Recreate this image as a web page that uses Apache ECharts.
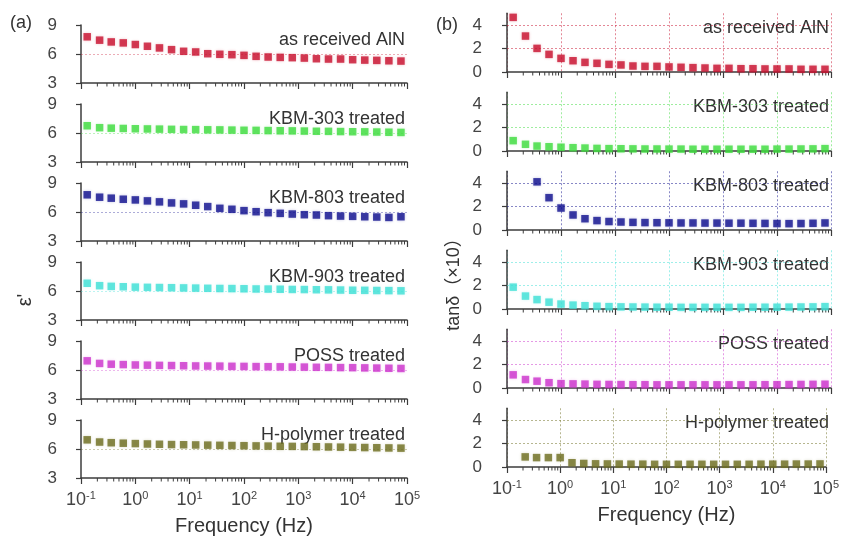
<!DOCTYPE html>
<html>
<head>
<meta charset="utf-8">
<script src="https://cdn.jsdelivr.net/npm/echarts@6/dist/echarts.min.js"></script>
<style>
  html, body { margin: 0; padding: 0; background: #fff; }
  #chart { width: 842px; height: 543px; }
</style>
</head>
<body>
<div id="chart"></div>
<script>
// measurement frequencies (Hz)
const freq = [0.13, 0.22, 0.36, 0.6, 1.0, 1.67, 2.78, 4.64, 7.74, 12.9, 21.5, 35.9, 59.9, 100,
  167, 278, 464, 774, 1290, 2150, 3590, 5990, 10000, 16700, 27800, 46400, 77400];

const sampleNames = ['as received AlN', 'KBM-303 treated', 'KBM-803 treated',
  'KBM-903 treated', 'POSS treated', 'H-polymer treated'];
const sampleColors = ['#c8102e', '#3fdc3f', '#10108e', '#3ee0d6', '#cc33cc', '#6e6e20'];

// (a) permittivity
const epsAsReceived = [7.78, 7.43, 7.25, 7.15, 6.98, 6.80, 6.63, 6.45, 6.28, 6.21, 6.03, 5.97, 5.93,
  5.86, 5.76, 5.69, 5.65, 5.62, 5.58, 5.51, 5.48, 5.48, 5.41, 5.37, 5.34, 5.30, 5.27];
const epsKbm303 = [6.75, 6.55, 6.5, 6.47, 6.44, 6.42, 6.4, 6.38, 6.36, 6.35, 6.33, 6.32, 6.3, 6.28,
  6.27, 6.25, 6.23, 6.22, 6.2, 6.18, 6.17, 6.15, 6.13, 6.12, 6.1, 6.08, 6.06];
const epsKbm803 = [7.78, 7.53, 7.43, 7.32, 7.25, 7.15, 7.05, 6.94, 6.84, 6.70, 6.56, 6.38, 6.28,
  6.14, 6.03, 5.93, 5.86, 5.79, 5.72, 5.69, 5.62, 5.58, 5.55, 5.51, 5.48, 5.44, 5.51];
const epsKbm903 = [6.8, 6.55, 6.48, 6.44, 6.4, 6.38, 6.36, 6.34, 6.32, 6.3, 6.28, 6.26, 6.25, 6.23,
  6.21, 6.2, 6.18, 6.16, 6.15, 6.13, 6.12, 6.1, 6.08, 6.07, 6.05, 6.04, 6.02];
const epsPoss = [6.95, 6.68, 6.6, 6.56, 6.52, 6.5, 6.48, 6.46, 6.44, 6.42, 6.41, 6.4, 6.38, 6.37,
  6.35, 6.34, 6.33, 6.31, 6.3, 6.28, 6.27, 6.25, 6.24, 6.22, 6.2, 6.18, 6.16];
const epsHPolymer = [6.95, 6.72, 6.65, 6.6, 6.56, 6.52, 6.49, 6.46, 6.44, 6.42, 6.4, 6.38, 6.36,
  6.34, 6.32, 6.3, 6.28, 6.27, 6.25, 6.23, 6.21, 6.19, 6.17, 6.15, 6.13, 6.11, 6.09];

// (b) loss tangent x10
const tanAsReceived = [4.65, 3.06, 2.01, 1.50, 1.16, 0.96, 0.82, 0.74, 0.65, 0.60, 0.51, 0.48, 0.48,
  0.43, 0.40, 0.37, 0.34, 0.31, 0.31, 0.28, 0.28, 0.26, 0.26, 0.26, 0.23, 0.23, 0.23];
const tanKbm303 = [0.88, 0.57, 0.42, 0.36, 0.32, 0.28, 0.25, 0.22, 0.2, 0.19, 0.18, 0.17, 0.17, 0.16,
  0.16, 0.15, 0.15, 0.15, 0.15, 0.15, 0.15, 0.15, 0.16, 0.16, 0.17, 0.18, 0.2];
const tanKbm803 = [null, null, 4.1, 2.75, 1.87, 1.28, 0.96, 0.8, 0.72, 0.68, 0.65, 0.63, 0.62, 0.61,
  0.6, 0.6, 0.59, 0.59, 0.58, 0.58, 0.57, 0.56, 0.55, 0.54, 0.55, 0.57, 0.6];
const tanKbm903 = [1.86, 1.1, 0.8, 0.58, 0.42, 0.33, 0.28, 0.23, 0.2, 0.18, 0.17, 0.16, 0.15, 0.15,
  0.14, 0.14, 0.14, 0.14, 0.14, 0.14, 0.15, 0.15, 0.15, 0.16, 0.17, 0.18, 0.2];
const tanPoss = [1.12, 0.72, 0.58, 0.45, 0.37, 0.35, 0.33, 0.31, 0.3, 0.29, 0.28, 0.28, 0.27, 0.27,
  0.27, 0.27, 0.27, 0.27, 0.27, 0.27, 0.27, 0.28, 0.28, 0.29, 0.3, 0.31, 0.32];
const tanHPolymer = [null, 0.86, 0.8, 0.8, 0.8, 0.36, 0.3, 0.27, 0.26, 0.25, 0.24, 0.24, 0.23, 0.23,
  0.23, 0.23, 0.23, 0.23, 0.23, 0.23, 0.23, 0.24, 0.24, 0.24, 0.25, 0.25, 0.26];

const epsTicks = [3, 6, 9];
const tanTicks = [0, 2, 4];
const decades = [0.1, 1, 10, 100, 1000, 10000];
const minorSteps = [2, 3, 4, 5, 6, 7, 8, 9];

const epsData = [epsAsReceived, epsKbm303, epsKbm803, epsKbm903, epsPoss, epsHPolymer];
const tanData = [tanAsReceived, tanKbm303, tanKbm803, tanKbm903, tanPoss, tanHPolymer];

const FONT = '"Liberation Sans", Arial, sans-serif';
const AXIS_COLOR = '#3c3c3c';
const ROW = 79;

function fade(hex, a) {
  const n = parseInt(hex.slice(1), 16);
  return `rgba(${n >> 16},${(n >> 8) & 255},${n & 255},${a})`;
}
function pairs(vals) {
  return vals.map((v, i) => v == null ? null : [freq[i], v]).filter(Boolean);
}
const minorTicks = [];
decades.forEach(d => minorSteps.forEach(m => minorTicks.push(d * m)));

const chart = echarts.init(document.getElementById('chart'));

const grid = [], xAxis = [], yAxis = [], series = [], graphic = [];

function addPanel(side) {
  const isLeft = side === 'a';
  const values = isLeft ? epsData : tanData;
  const ticks = isLeft ? epsTicks : tanTicks;
  for (let i = 0; i < 6; i++) {
    const idx = grid.length;
    const color = sampleColors[i];
    const bottomRow = i === 5;
    if (isLeft) {
      grid.push({ left: 81, width: 326, top: 25 + ROW * i, height: 58 });
    } else {
      grid.push({ left: 507, width: 324, top: 13.25 + ROW * i, height: 58.75 });
    }
    xAxis.push({
      type: 'log', logBase: 10, gridIndex: idx, min: 0.1, max: 100000, splitNumber: 6,
      axisLine: { show: true, onZero: false, lineStyle: { color: AXIS_COLOR, width: 1.5 } },
      axisTick: { show: true, length: 6, lineStyle: { color: AXIS_COLOR, width: 1.2 } },
      axisLabel: {
        show: bottomRow, margin: 12, color: '#444', fontFamily: FONT,
        formatter: v => '{b|10}{s|' + Math.round(Math.log10(v)) + '}',
        rich: {
          b: { fontSize: 18, lineHeight: 20, fontFamily: FONT, color: '#444' },
          s: { fontSize: 11, lineHeight: 12, verticalAlign: 'top', fontFamily: FONT, color: '#444' }
        }
      },
      splitLine: isLeft ? { show: false }
        : { show: true, lineStyle: { color: fade(color, 0.5), type: [2, 2], width: 1 } },
      name: bottomRow ? 'Frequency (Hz)' : '',
      nameLocation: 'middle', nameGap: 38,
      nameTextStyle: { fontSize: 20, color: '#333', fontFamily: FONT }
    });
    yAxis.push(isLeft ? {
      type: 'value', gridIndex: idx, min: 3, max: 9, interval: 3,
      axisLine: { show: true, lineStyle: { color: AXIS_COLOR, width: 1.5 } },
      axisTick: { show: true, length: 5, lineStyle: { color: AXIS_COLOR, width: 1.2 } },
      axisLabel: { fontSize: 17, color: '#444', margin: 24, fontFamily: FONT },
      splitLine: { show: false }
    } : {
      type: 'value', gridIndex: idx, min: 0, max: 5,
      axisLine: { show: true, lineStyle: { color: AXIS_COLOR, width: 1.5 } },
      axisTick: { show: true, length: 5, customValues: tanTicks, lineStyle: { color: AXIS_COLOR, width: 1.2 } },
      axisLabel: { fontSize: 17, color: '#444', margin: 25, fontFamily: FONT, customValues: tanTicks,
        formatter: v => (tanTicks.indexOf(v) >= 0 ? String(v) : '') },
      splitLine: { show: false }
    });
    const guide = isLeft ? [{ yAxis: ticks[1] }] : ticks.slice(1).map(t => ({ yAxis: t }));
    series.push({
      type: 'scatter', xAxisIndex: idx, yAxisIndex: idx, z: 5,
      symbol: 'rect', symbolSize: 7.5,
      itemStyle: { color: color, shadowBlur: 3, shadowColor: fade(color, 0.3) },
      data: pairs(values[i]),
      markLine: {
        silent: true, symbol: ['none', 'none'], label: { show: false },
        lineStyle: { color: fade(color, isLeft ? 0.35 : 0.5), type: [2, 2], width: 1 },
        data: guide
      }
    });
    const yMin = ticks[0];
    series.push({
      type: 'custom', xAxisIndex: idx, yAxisIndex: idx, silent: true, clip: false, z: 4,
      data: minorTicks.map(f => [f, yMin]),
      renderItem: (params, api) => {
        const p = api.coord([api.value(0), api.value(1)]);
        return { type: 'line', shape: { x1: p[0], y1: p[1], x2: p[0], y2: p[1] + 3.5 },
          style: { stroke: AXIS_COLOR, lineWidth: 1 } };
      }
    });
    const g = grid[idx];
    graphic.push({
      type: 'text', silent: true,
      x: g.left + g.width - 2,
      y: g.top + 15,
      style: { text: sampleNames[i], fontSize: 18, fontFamily: FONT, fill: '#333',
        align: 'right', verticalAlign: 'middle' }
    });
  }
}
addPanel('a');
addPanel('b');

graphic.push(
  { type: 'text', x: 10, y: 23, style: { text: '(a)', fontSize: 18, fontFamily: FONT, fill: '#333', verticalAlign: 'middle' } },
  { type: 'text', x: 436, y: 25, style: { text: '(b)', fontSize: 18, fontFamily: FONT, fill: '#333', verticalAlign: 'middle' } },
  { type: 'text', x: 25, y: 300, rotation: Math.PI / 2,
    style: { text: "ε'", fontSize: 20, fontFamily: FONT, fill: '#333', align: 'center', verticalAlign: 'middle' } },
  { type: 'text', x: 454, y: 280, rotation: Math.PI / 2,
    style: { text: 'tanδ（×10）', fontSize: 18, fontFamily: FONT + ', "Noto Sans CJK SC"', fill: '#333', align: 'center', verticalAlign: 'middle' } }
);

chart.setOption({
  animation: false,
  backgroundColor: '#fff',
  grid, xAxis, yAxis, series, graphic
});
</script>
</body>
</html>
